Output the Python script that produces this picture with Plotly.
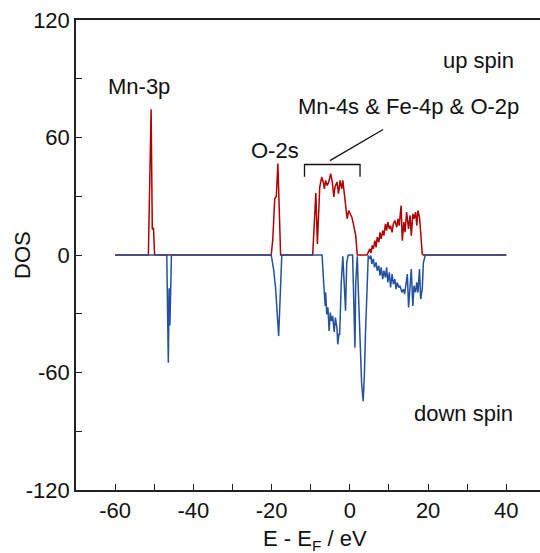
import plotly.graph_objects as go

# ---- data ----
up_E = [-60, -51.5, -50.8, -50.5, -50.2, -49.9,
        -20.1, -19.7, -19.2, -18.8, -18.4, -17.7,
        -9.5, -8.7, -8.3, -7.7, -7.2, -6.8, -6.5, -6.2, -5.8, -5.4, -4.9, -4.5, -4.1,
        -3.8, -3.3, -2.9, -2.5, -2.1, -1.8, -1.4, -1.0, -0.7, -0.3, 0.2, 0.5, 0.9,
        1.2, 1.5, 1.9,
        4.4, 4.7, 5.1, 5.4, 5.7, 6.0, 6.4, 6.7, 7.0, 7.4, 7.7, 8.0, 8.4, 8.7, 9.1,
        9.4, 9.7, 10.1, 10.4, 10.8, 11.1, 11.5, 12.0, 12.3, 12.6, 13.1, 13.4, 13.8,
        14.1, 14.5, 15.0, 15.4, 15.7, 16.1, 16.4, 16.8, 17.1, 17.4, 17.8, 18.1,
        18.5, 18.8, 40]
up_DOS = [0, 0, 74.4, 13, 14, 0,
          0, 8, 28.7, 30, 46.7, 0,
          0, 31.6, 5.6, 34.7, 39.8, 37.3, 33.8, 38.1, 35.5, 37.3, 41.5, 37.3, 29.6,
          34.7, 37.3, 31.3, 38.1, 33.8, 38.1, 29.6, 24.4, 18.5, 22.7, 21.0, 19.3, 15.9,
          13.3, 9.9, 0,
          0, 1.4, 3.1, 1.0, 4.8, 3.1, 7.3, 3.9, 9.1, 6.5, 11.6, 8.2, 12.5, 9.9, 15.9,
          12.5, 16.8, 13.3, 15.0, 11.6, 15.9, 17.6, 14.2, 18.5, 15.0, 25.3, 7.3, 16.8,
          11.6, 21.9, 13.3, 20.2, 9.9, 21.0, 18.5, 21.9, 15.0, 22.7, 19.3, 11.6,
          0.5, 0, 0]

down_E = [-60, -46.8, -46.4, -46.2, -46.0, -45.6,
          -20.1, -19.5, -19.0, -18.2, -17.4,
          -7.1, -6.7, -6.3, -6.2, -5.9, -5.6, -5.3, -5.0, -4.7, -4.4, -4.0, -3.7, -3.3,
          -3.1, -2.8, -2.6, -2.2, -1.8, -1.5, -1.1, -0.8, -0.4, 0.7, 1.3, 1.5, 1.9,
          2.1, 2.6, 3.0, 3.4, 3.7, 4.0, 4.4, 4.7,
          5.1, 5.4, 5.6, 6.0, 6.3, 6.7, 7.0, 7.4, 7.7, 8.0, 8.4, 8.7, 9.1, 9.4, 9.7,
          10.1, 10.4, 10.8, 11.1, 11.5, 11.8, 12.1, 12.5, 12.8, 13.3, 13.7, 14.0,
          14.4, 14.7, 15.0, 15.4, 15.7, 16.1, 16.4, 16.8, 17.1, 17.4, 17.8, 18.1,
          18.5, 18.8, 19.3, 40]
down_DOS = [0, 0, -55, -17, -36, 0,
            0, -7.2, -16.6, -41.4, 0,
            0, -14, -26, -19.1, -30.3, -26.8, -38.8, -29.4, -33.7, -31.1, -39.3, -32, -37.1,
            -45.6, -40.5, -40.5, -14, -0.7, -14, -28.5, -3.8, 0, 0, -47.4, -14, -0.7,
            -14, -48.2, -65.3, -74.7, -61.9, -39.6, -14, -0.3,
            -2, -0.3, -4.6, -2, -6.3, -3.8, -8.0, -5.5, -10.6, -6.3, -12.3, -8.0, -11.5, -6.3, -14.0,
            -8.9, -16.6, -9.7, -14.9, -12.3, -17.4, -14.0, -16.6, -15.7, -19.1, -17.4, -20.0,
            -14.9, -9.7, -26.8, -15.7, -7.2, -26.0, -15.7, -19.1, -14.0, -19.1, -7.2, -22.6,
            -17.4, -3.8, 0, 0]

x_tickvals = [-60, -50, -40, -30, -20, -10, 0, 10, 20, 30, 40]
x_ticktext = ["-60", "", "-40", "", "-20", "", "0", "", "20", "", "40"]
y_tickvals = [-120, -90, -60, -30, 0, 30, 60, 90, 120]
y_ticktext = ["-120", "", "-60", "", "0", "", "60", "", "120"]

labels = ["Mn-3p", "O-2s", "Mn-4s & Fe-4p & O-2p", "up spin", "down spin"]
label_E = [-53.8, -19.2, 15.1, 32.8, 29.0]
label_D = [86.2, 53.3, 75.9, 99.5, -81.0]

RED = "#b00000"
BLUE = "#24519c"
FONT = "Liberation Sans, Arial, sans-serif"
FS = 22

fig = go.Figure()
fig.add_trace(go.Scatter(x=up_E, y=up_DOS, mode="lines",
                         line=dict(color=RED, width=1.5), showlegend=False))
fig.add_trace(go.Scatter(x=down_E, y=down_DOS, mode="lines",
                         line=dict(color=BLUE, width=1.5), showlegend=False))

for t, xe, yd in zip(labels, label_E, label_D):
    fig.add_annotation(x=xe, y=yd, xref="x", yref="y", text=t, showarrow=False,
                       font=dict(size=FS, color="#111", family=FONT))

# axis titles
fig.add_annotation(x=0.515, y=-0.107, xref="paper", yref="paper", text="E - E<sub>F</sub> / eV",
                   showarrow=False, xanchor="center", yanchor="middle",
                   font=dict(size=FS, color="#111", family=FONT))
fig.add_annotation(x=-0.1164, y=0.5, xref="paper", yref="paper", text="DOS", textangle=-90,
                   showarrow=False, xanchor="center", yanchor="middle",
                   font=dict(size=FS, color="#111", family=FONT))

# bracket + pointer line
fig.add_shape(type="path", xref="x", yref="y",
              path="M -11.6 40 L -11.6 46.2 L 2.6 46.2 L 2.6 40",
              line=dict(color="#111", width=1.3))
fig.add_shape(type="line", xref="x", yref="y", x0=-5.1, y0=48.2, x1=8.5, y1=64.1,
              line=dict(color="#111", width=1.3))

fig.update_xaxes(range=[-70, 48.6], tickmode="array", tickvals=x_tickvals, ticktext=x_ticktext,
                 ticks="inside", ticklen=6, tickwidth=1.3, tickcolor="#222",
                 showgrid=False, zeroline=False, showline=True, linecolor="#222",
                 linewidth=1.5, mirror=True,
                 tickfont=dict(size=FS, family=FONT, color="#111"))
fig.update_yaxes(range=[-120, 120], tickmode="array", tickvals=y_tickvals, ticktext=y_ticktext,
                 ticks="inside", ticklen=6, tickwidth=1.3, tickcolor="#222",
                 showgrid=False, zeroline=False, showline=True, linecolor="#222",
                 linewidth=1.5,
                 tickfont=dict(size=FS, family=FONT, color="#111"))

fig.update_layout(width=540, height=553, margin=dict(l=76, r=0, t=20, b=63),
                  plot_bgcolor="white", paper_bgcolor="white")

fig.write_html("out.html")
